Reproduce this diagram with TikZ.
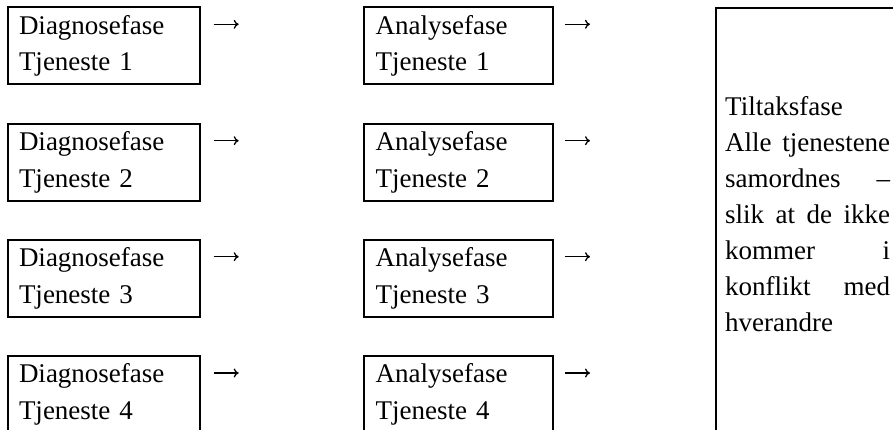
\documentclass[tikz,border=0pt]{standalone}
\usepackage{fontspec}
\setmainfont{Liberation Serif}
\usetikzlibrary{arrows.meta}
\begin{document}
\begin{tikzpicture}[x=1pt,y=-1pt,
  phase/.style={draw, line width=2pt, anchor=north west, inner ysep=0pt,
    minimum height=77pt, align=left, font=\fontsize{27}{36.5}\selectfont},
  diag/.style={phase, inner xsep=11.3pt, text width=170pt},
  anal/.style={phase, inner xsep=12pt, text width=165pt},
  flow/.style={line width=1.3pt, -{Computer Modern Rightarrow[length=5pt,width=9pt]}},
  frame/.style={draw, line width=2pt, anchor=north west, minimum width=200pt, minimum height=460pt},
  bodytext/.style={anchor=north west, inner sep=0pt, text width=165pt, align=justify,
    font=\fontsize{27}{36}\selectfont}]
  \useasboundingbox (0,0) rectangle (893,430);
  \clip (0,0) rectangle (893,430);

  % diagnosis and analysis boxes, one row per service, each followed by an arrow
  \foreach \i/\y in {1/6.3, 2/122.7, 3/238.7, 4/355} {
    \node[diag] (d\i) at (6.7,\y) {Diagnosefase\\Tjeneste \i};
    \coordinate (ds\i) at ([shift={(12.4,18)}]d\i.north east);
    \coordinate (de\i) at ([shift={(37.4,18)}]d\i.north east);
    \draw[flow] (ds\i) -- (de\i);
    \node[anal] (a\i) at (362.7,\y) {Analysefase\\Tjeneste \i};
    \coordinate (as\i) at ([shift={(11.3,18)}]a\i.north east);
    \coordinate (ae\i) at ([shift={(36.3,18)}]a\i.north east);
    \draw[flow] (as\i) -- (ae\i);
  }

  % common measures phase
  \node[frame] (tiltak) at (715,6.7) {};
  \node[bodytext] (tiltaktekst) at (725,96.6)
    {Tiltaksfase\\Alle tjenestene\linebreak samordnes –\linebreak slik at de ikke\linebreak
     kommer i\linebreak konflikt med\linebreak hverandre};
\end{tikzpicture}
\end{document}
